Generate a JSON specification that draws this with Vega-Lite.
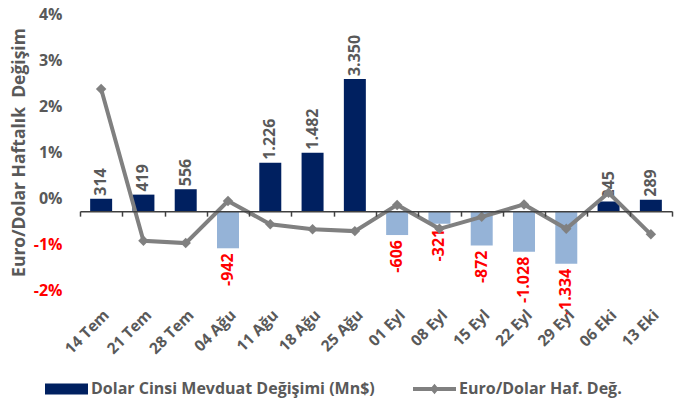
{
  "$schema": "https://vega.github.io/schema/vega-lite/v6.json",
  "width": 592,
  "height": 276,
  "autosize": "none",
  "padding": {"left": 80, "top": 14, "right": 2, "bottom": 111},
  "config": {
    "view": {"stroke": null},
    "font": "Open Sans",
    "locale": {"number": {"decimal": ",", "thousands": ".", "grouping": [3], "currency": ["", ""], "minus": "-"}}
  },
  "data": {
    "values": [
      {"week": "14 Tem", "dolar": 314, "euro": 0.0237},
      {"week": "21 Tem", "dolar": 419, "euro": -0.0093},
      {"week": "28 Tem", "dolar": 556, "euro": -0.0098},
      {"week": "04 Ağu", "dolar": -942, "euro": -0.00065},
      {"week": "11 Ağu", "dolar": 1226, "euro": -0.0057},
      {"week": "18 Ağu", "dolar": 1482, "euro": -0.0068},
      {"week": "25 Ağu", "dolar": 3350, "euro": -0.0072},
      {"week": "01 Eyl", "dolar": -606, "euro": -0.0015},
      {"week": "08 Eyl", "dolar": -321, "euro": -0.0067},
      {"week": "15 Eyl", "dolar": -872, "euro": -0.0041},
      {"week": "22 Eyl", "dolar": -1028, "euro": -0.0014},
      {"week": "29 Eyl", "dolar": -1334, "euro": -0.0067},
      {"week": "06 Eki", "dolar": 245, "euro": 0.00115},
      {"week": "13 Eki", "dolar": 289, "euro": -0.0079}
    ]
  },
  "layer": [
    {
      "layer": [
        {
          "mark": {"type": "bar", "width": {"band": 0.52}},
          "encoding": {
            "x": {
              "field": "week", "type": "ordinal", "sort": null,
              "scale": {"paddingInner": 0, "paddingOuter": 0},
              "axis": {
                "orient": "bottom", "offset": -78.86, "title": null,
                "labelAngle": -45, "labelFontSize": 15.5, "labelFontWeight": "bold",
                "labelColor": "#595959", "tickBand": "extent", "tickSize": 5,
                "tickColor": "#404040", "tickWidth": 1.5, "domainColor": "#404040",
                "domainWidth": 1.5, "labelPadding": 91, "zindex": 1
              }
            },
            "y": {"field": "dolar", "type": "quantitative", "scale": {"domain": [-2000, 5000], "nice": false, "zero": false}, "axis": null},
            "fill": {"condition": {"test": "datum.dolar < 0", "value": "#95B3D7"}, "value": "#002060"}
          }
        },
        {
          "transform": [{"filter": "datum.dolar >= 0"}],
          "mark": {"type": "text", "angle": 270, "align": "left", "baseline": "middle", "dx": 3, "fontSize": 16, "fontWeight": "bold", "color": "#595959"},
          "encoding": {
            "x": {"field": "week", "type": "ordinal", "sort": null},
            "y": {"field": "dolar", "type": "quantitative", "scale": {"domain": [-2000, 5000], "nice": false, "zero": false}, "axis": null},
            "text": {"field": "dolar", "type": "quantitative", "format": ",d"}
          }
        },
        {
          "transform": [{"filter": "datum.dolar < 0"}],
          "mark": {"type": "text", "angle": 270, "align": "right", "baseline": "middle", "dx": -5, "fontSize": 16, "fontWeight": "bold", "color": "#FF0000"},
          "encoding": {
            "x": {"field": "week", "type": "ordinal", "sort": null},
            "y": {"field": "dolar", "type": "quantitative", "scale": {"domain": [-2000, 5000], "nice": false, "zero": false}, "axis": null},
            "text": {"field": "dolar", "type": "quantitative", "format": ",d"}
          }
        }
      ]
    },
    {
      "mark": {"type": "line", "strokeWidth": 4, "point": {"shape": "diamond", "size": 110, "filled": true, "opacity": 1}},
      "encoding": {
        "x": {"field": "week", "type": "ordinal", "sort": null},
        "y": {
          "field": "euro", "type": "quantitative",
          "scale": {"domain": [-0.02, 0.04], "nice": false, "zero": false},
          "axis": {
            "orient": "left", "values": [-0.02, -0.01, 0, 0.01, 0.02, 0.03, 0.04], "format": ".0%",
            "domain": false, "ticks": false, "grid": false,
            "labelFontSize": 16, "labelFontWeight": "bold",
            "labelColor": {"condition": {"test": "datum.value < 0", "value": "#FF0000"}, "value": "#595959"},
            "labelPadding": 18,
            "title": "Euro/Dolar Haftalık\u00a0 Değişim", "titleFontSize": 17.5, "titleFontWeight": "bold",
            "titleColor": "#595959", "titlePadding": 5
          }
        },
        "color": {
          "datum": "Euro/Dolar Haf. Değ.",
          "scale": {"domain": ["Dolar Cinsi Mevduat Değişimi (Mn$)", "Euro/Dolar Haf. Değ."], "range": ["#002060", "#808080"]},
          "legend": {
            "title": null, "orient": "none", "legendX": -35, "legendY": 353.5,
            "direction": "horizontal", "symbolSize": 1849, "symbolStrokeWidth": 0,
            "gridAlign": "none",
            "labelFontSize": 16, "labelFontWeight": "bold", "labelColor": "#595959",
            "labelOffset": 3, "columnPadding": 38, "labelLimit": 500,
            "encode": {
              "symbols": {
                "update": {
                  "shape": {"signal": "datum.value === 'Euro/Dolar Haf. Değ.' ? 'M-1,-0.09L1,-0.09L1,0.09L-1,0.09Z M0,-0.24L0.2,0L0,0.24L-0.2,0Z' : 'M-1,-0.26L1,-0.26L1,0.26L-1,0.26Z'"},
                  "fill": {"signal": "datum.value === 'Euro/Dolar Haf. Değ.' ? '#808080' : '#002060'"},
                  "stroke": {"value": "transparent"},
                  "strokeWidth": {"value": 0},
                  "opacity": {"value": 1}
                }
              }
            }
          }
        }
      }
    }
  ],
  "resolve": {"scale": {"y": "independent"}}
}
